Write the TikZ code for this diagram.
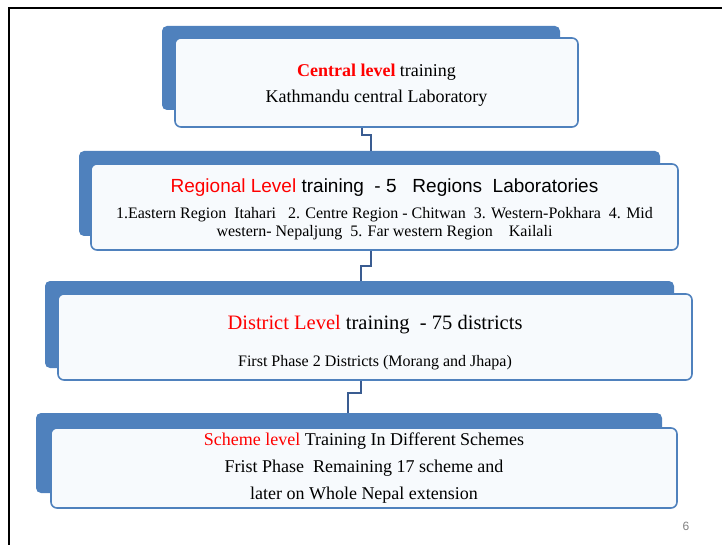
\documentclass[tikz,border=0pt]{standalone}
\usepackage{xcolor}
\usepackage{fontspec}
\setmainfont{Liberation Serif}
\newfontfamily\headsans{Liberation Sans}
\usepackage{tikz}
\usetikzlibrary{positioning}

\definecolor{slideblue}{RGB}{79,129,189}
\definecolor{linkblue}{RGB}{58,92,145}
\definecolor{boxwhite}{RGB}{247,250,253}
\newcommand{\hl}[1]{\textcolor{red}{#1}}

\begin{document}
\begin{tikzpicture}[x=1pt,y=-1pt,
  bg/.style={fill=slideblue,rounded corners=5pt,inner sep=0pt},
  box/.style={draw=slideblue,line width=1.6pt,fill=boxwhite,rounded corners=6pt,inner sep=0pt,align=center},
  link/.style={draw=linkblue,line width=2.6pt}]
\useasboundingbox (0,0) rectangle (722,545);
\draw[line width=2pt] (9,545) -- (9,8) -- (722,8);

% central level
\node[bg,minimum width=398pt,minimum height=84pt] (centralbg) at (361,68) {};
\node[box,minimum width=403pt,minimum height=89pt,font=\fontsize{18}{26}\selectfont] (central) at (376.5,82.5)
  {\rule{0pt}{18pt}\hl{\textbf{Central level}} training\\Kathmandu central Laboratory};

% regional level
\node[bg,minimum width=581pt,minimum height=85pt] (regionalbg) at (369.5,193.5) {};
\node[box,minimum width=587pt,minimum height=86pt,font=\fontsize{16}{18}\selectfont] (regional) at (384.5,207)
  {{\headsans\fontsize{19}{22}\selectfont\rule{0pt}{19pt}\hl{Regional Level} training~ - 5 ~~Regions ~Laboratories}\\[8pt]
   1.Eastern Region ~Itahari ~~2. Centre Region - Chitwan ~3. Western-Pokhara ~4. Mid\\
   western- Nepaljung ~5. Far western Region ~~~Kailali};

% district level
\node[bg,minimum width=629pt,minimum height=87pt] (districtbg) at (359.5,324.5) {};
\node[box,minimum width=634pt,minimum height=86pt,font=\fontsize{16}{18}\selectfont] (district) at (375,337)
  {{\fontsize{20.5}{24}\selectfont\rule{0pt}{25pt}\hl{District Level} training~ - 75 districts}\\[19pt]
   First Phase 2 Districts (Morang and Jhapa)};

% scheme level
\node[bg,minimum width=626pt,minimum height=80pt] (schemebg) at (349,453) {};
\node[box,minimum width=626pt,minimum height=80pt,font=\fontsize{18}{27}\selectfont] (scheme) at (364,468)
  {\hl{Scheme level} Training In Different Schemes\\
   Frist Phase ~Remaining 17 scheme and\\
   later on Whole Nepal extension};

% connectors
\coordinate (k1a) at (362,135);
\coordinate (k1b) at (371,135);
\draw[link] (central.south -| k1a) -- (k1a) -- (k1b) -- (regionalbg.north -| k1b);
\coordinate (k2a) at (371,266);
\coordinate (k2b) at (361,266);
\draw[link] (regional.south -| k2a) -- (k2a) -- (k2b) -- (districtbg.north -| k2b);
\coordinate (k3a) at (361,393);
\coordinate (k3b) at (348,393);
\draw[link] (district.south -| k3a) -- (k3a) -- (k3b) -- (schemebg.north -| k3b);

\node[text=gray,font=\headsans\fontsize{12}{14}\selectfont] (pagenum) at (686,526) {6};
\end{tikzpicture}
\end{document}
